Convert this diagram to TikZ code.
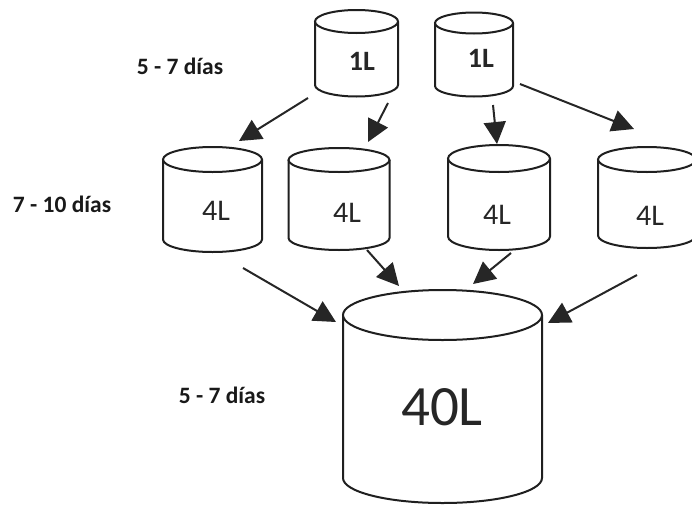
\documentclass[tikz,border=0pt]{standalone}
\usepackage{fontspec}
\setmainfont{Carlito}
\usetikzlibrary{arrows.meta}

% can{name}{cx}{top y}{bottom y}{rx}{ry}{label}{style}
\newcommand{\drawcan}[8]{%
  \draw[canline] (#2-#5,#3) -- (#2-#5,#4)
    arc[start angle=180, end angle=0, x radius=#5, y radius=#6]
    -- (#2+#5,#3);
  \draw[canline] (#2,#3) ellipse[x radius=#5, y radius=#6];
  \node[#8] (#1) at (#2,{(#3+#4)/2+#6/2}) {#7};
}

\begin{document}
\begin{tikzpicture}[x=1pt, y=-1pt,
  canline/.style={line width=2pt, draw=black!88, fill=white},
  smalltext/.style={font=\fontsize{30}{30}\selectfont, text=black!85, inner sep=0pt},
  bigtext/.style={font=\fontsize{57}{57}\selectfont, text=black!85, inner sep=0pt},
  daylabel/.style={font=\bfseries\fontsize{23.5}{23.5}\selectfont, text=black!90, inner sep=0pt},
  flow/.style={line width=2pt, draw=black!85, -{Triangle[length=22pt, width=22pt]}}]
  \useasboundingbox (0,0) rectangle (692,506);
  \begin{scope}
    \clip (0,0) rectangle (692,506);

    % top row: 1 L cans
    \drawcan{a}{356.5}{21.5}{85}{41.5}{11.5}{}{smalltext}
    \drawcan{b}{474}{23}{86}{39}{10.5}{}{smalltext}
    \node[smalltext, font=\bfseries\fontsize{28}{28}\selectfont] (ta) at (362,61) {1L};
    \node[smalltext, font=\bfseries\fontsize{28}{28}\selectfont] (tb) at (481,58) {1L};

    % middle row: 4 L cans
    \drawcan{c}{212.5}{159.5}{239.5}{49.5}{12.5}{}{smalltext}
    \drawcan{d}{339}{160}{238}{50.5}{12}{}{smalltext}
    \drawcan{e}{499}{158.5}{236.5}{51}{13.5}{}{smalltext}
    \drawcan{f}{647}{159.5}{235.5}{49}{12.5}{}{smalltext}
    \node[smalltext] (tc) at (216,211) {4L};
    \node[smalltext] (td) at (347,213) {4L};
    \node[smalltext] (te) at (497,215) {4L};
    \node[smalltext] (tf) at (650,216) {4L};

    % bottom: 40 L can
    \drawcan{g}{442.5}{315}{478}{99.5}{25}{}{bigtext}
    \node[bigtext] (tg) at (442,407) {40L};
  \end{scope}

  % stage durations
  \node[daylabel] (l1) at (180,66) {5 - 7 días};
  \node[daylabel] (l2) at (62,204) {7 - 10 días};
  \node[daylabel] (l3) at (222,395) {5 - 7 días};

  % arrow end points
  \coordinate (a1s) at (308,98);  \coordinate (a1e) at (239,141);
  \coordinate (a2s) at (388,103); \coordinate (a2e) at (368,142);
  \coordinate (a3s) at (493,105); \coordinate (a3e) at (497,144);
  \coordinate (a4s) at (520,84);  \coordinate (a4e) at (634,129);
  \coordinate (a5s) at (243,268); \coordinate (a5e) at (336,322);
  \coordinate (a6s) at (367,250); \coordinate (a6e) at (399,286);
  \coordinate (a7s) at (511,253); \coordinate (a7e) at (473,284);
  \coordinate (a8s) at (637,275); \coordinate (a8e) at (548,323);

  \draw[flow] (a1s) -- (a1e);
  \draw[flow] (a2s) -- (a2e);
  \draw[flow] (a3s) -- (a3e);
  \draw[flow] (a4s) -- (a4e);
  \draw[flow] (a5s) -- (a5e);
  \draw[flow] (a6s) -- (a6e);
  \draw[flow] (a7s) -- (a7e);
  \draw[flow] (a8s) -- (a8e);
\end{tikzpicture}
\end{document}
